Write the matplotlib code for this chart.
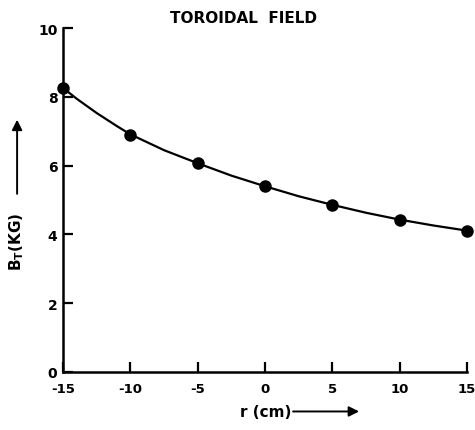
import matplotlib
matplotlib.use("Agg")
import matplotlib.pyplot as plt

plt.rcParams['font.family'] = ['DejaVu Sans']
plt.rcParams['font.weight'] = 'bold'
plt.rcParams['axes.unicode_minus'] = False

# measured toroidal field across the minor radius
r_cm = [-15, -10, -5, 0, 5, 10, 15]
b_kg = [8.26, 6.90, 6.08, 5.40, 4.86, 4.43, 4.11]

# smooth curve drawn through the data
curve_r = [-15, -14, -13, -12.5, -11, -10, -7.5, -5, -2.5, 0, 2.5, 5, 7.5, 10, 12.5, 15]
curve_b = [8.26, 7.95, 7.67, 7.53, 7.15, 6.91, 6.45, 6.07, 5.71, 5.40, 5.11, 4.86, 4.63, 4.43, 4.26, 4.11]

x_ticks = [-15, -10, -5, 0, 5, 10, 15]
y_ticks = [0, 2, 4, 6, 8, 10]

fig = plt.figure(figsize=(4.75, 4.31), dpi=100)
ax = fig.add_axes([0.1326, 0.1346, 0.8505, 0.798])

ax.plot(curve_r, curve_b, 'k-', lw=1.6, zorder=2)
ax.plot(r_cm, b_kg, 'ko', ms=8, zorder=3, clip_on=False)

ax.set_xlim(-15, 15)
ax.set_ylim(0, 10)
ax.set_xticks(x_ticks)
ax.set_yticks(y_ticks)

for side in ('top', 'right'):
    ax.spines[side].set_visible(False)
for side in ('left', 'bottom'):
    ax.spines[side].set_linewidth(1.8)

ax.tick_params(direction='in', length=7, width=1.6, labelsize=10, pad=4)
ax.tick_params(axis='x', pad=7, labelsize=9.5)

ax.set_title('TOROIDAL  FIELD', fontsize=11, fontweight='bold', pad=4, x=0.448)

# axis labels with long arrows pointing in the increasing direction
arrow = dict(arrowstyle='-|>', lw=1.4, color='k', mutation_scale=15, shrinkA=0, shrinkB=0)
fig.text(0.56, 0.044, 'r (cm)', fontsize=11, fontweight='bold', ha='center', va='center')
ax.annotate('', xy=(0.756, 0.043), xytext=(0.617, 0.043),
            xycoords='figure fraction', textcoords='figure fraction', arrowprops=arrow)

fig.text(0.036, 0.44, 'B$_\\mathbf{T}$(KG)', fontsize=11, fontweight='bold',
         rotation=90, ha='center', va='center')
ax.annotate('', xy=(0.036, 0.72), xytext=(0.036, 0.548),
            xycoords='figure fraction', textcoords='figure fraction', arrowprops=arrow)

fig.savefig('out.png', dpi=100)
